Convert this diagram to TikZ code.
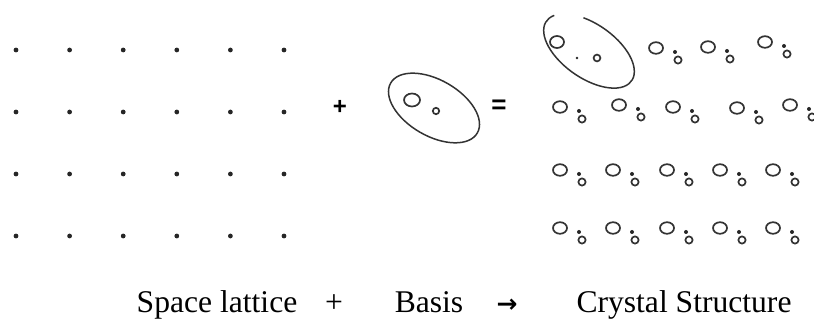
\documentclass[tikz,border=0pt]{standalone}
\usepackage{fontspec}
\setmainfont{Liberation Serif}
\newfontfamily\symfont{DejaVu Sans}
\newfontfamily\signfont{Liberation Sans}
\usepackage{tikz}
\tikzset{
  atom/.style={line width=1.7pt, black!80},
  ring/.style={line width=1.5pt, black!80},
  motif/.pic={
    \draw[atom] (0,0) ellipse (7 and 5.8);
    \fill[black!85] (19,-4) circle (2);
    \draw[atom] (22,-12) circle (3.6);
  }
}
\begin{document}
\begin{tikzpicture}[x=1pt, y=1pt, every node/.style={inner sep=0pt, font=\fontsize{31.6}{36}\selectfont}]
	\useasboundingbox (0,0) rectangle (814,320);
	\foreach \col in {0,...,5}
		\foreach \row in {0,...,3}
			\fill[black!85] ({16+53.6*\col},{270-62*\row}) circle (2.4);
	\node[font=\signfont\bfseries\fontsize{24}{28}\selectfont] (plus) at (340,213) {+};
	\draw[ring, rotate around={-30:(434,212)}] (434,212) ellipse (50 and 28);
	\draw[atom] (412,220) ellipse (8 and 6.5);
	\draw[atom] (436,209) circle (3.2);
	\node[font=\signfont\bfseries\fontsize{26}{30}\selectfont] (equals) at (499,213) {=};
	\begin{scope}[shift={(589,269)}, rotate=-35]
		\draw[ring] ({52*cos(160)},{27*sin(160)}) arc[start angle=160, end angle=477, x radius=52, y radius=27];
	\end{scope}
	\draw[atom] (557,278) ellipse (7 and 6);
	\fill[black!85] (577,262) circle (1.4);
	\draw[atom] (597,262) circle (3.4);
	\foreach \x/\y in {656/272, 708/273, 765/278, 560/213, 619/215, 673/213, 737/212, 790/215}
		\pic at (\x,\y) {motif};
	\foreach \y in {150,92}
		\foreach \x in {560,613,667,720,773}
			\pic at (\x,\y) {motif};
	\node[anchor=base] (lattlabel) at (217,7) {Space lattice};
	\node[anchor=base] (pluslabel) at (334,7) {+};
	\node[anchor=base] (basislabel) at (429,7) {Basis};
	\node[anchor=base, font=\symfont\bfseries\fontsize{25}{30}\selectfont] (arrowlabel) at (507,7) {→};
	\node[anchor=base] (crystallabel) at (684,7) {Crystal Structure};
\end{tikzpicture}
\end{document}
